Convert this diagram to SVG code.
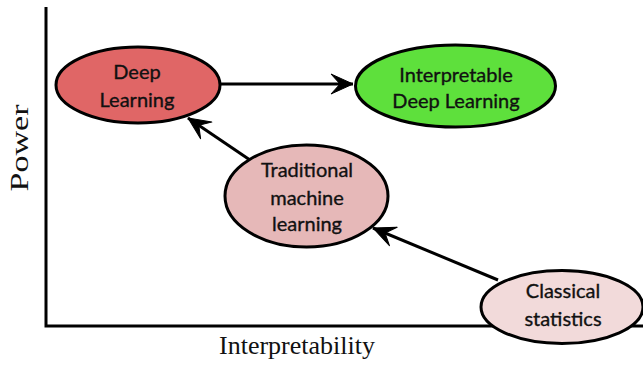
<svg xmlns="http://www.w3.org/2000/svg" width="643" height="368" viewBox="0 0 643 368">
  <style>
    .axis { stroke: #000; stroke-width: 3; fill: none; }
    .axis-label { font-family: "Liberation Serif", "Times New Roman", serif; font-size: 26px; fill: #111; }
    .node ellipse { stroke: #000; stroke-width: 3; }
    .node text { font-family: "Lato", "Noto Sans", sans-serif; font-size: 20px; fill: #111; stroke: #111; stroke-width: 0.35; text-anchor: middle; }
    .edge { stroke: #000; stroke-width: 3; fill: none; marker-end: url(#arrow); }
  </style>
  <defs>
    <marker id="arrow" viewBox="-24 -12 26 24" refX="0" refY="0" markerWidth="26" markerHeight="24" markerUnits="userSpaceOnUse" orient="auto">
      <path d="M0,0 L-22,-10 L-13,0 L-22,10 Z" fill="#000" stroke="#000" stroke-width="1" stroke-linejoin="round"/>
    </marker>
  </defs>

  <rect width="643" height="368" fill="#fff"/>

  <!-- axes -->
  <g id="axes">
    <path class="axis" d="M46,7 V326 H643"/>
    <text class="axis-label" x="0" y="0" transform="translate(28,148) rotate(-90)" text-anchor="middle" font-size="31" textLength="87" lengthAdjust="spacingAndGlyphs">Power</text>
    <text class="axis-label" x="297" y="354" text-anchor="middle">Interpretability</text>
  </g>

  <!-- connectors -->
  <g id="connectors">
    <line class="edge" x1="221" y1="84" x2="353" y2="84"/>
    <line class="edge" x1="250" y1="160" x2="188" y2="118"/>
    <line class="edge" x1="498" y1="280" x2="373" y2="228"/>
  </g>

  <g id="deep-learning" class="node">
    <ellipse cx="138" cy="85" rx="82" ry="38" fill="#e06666"/>
    <text x="137" y="79">Deep</text>
    <text x="137" y="107">Learning</text>
  </g>

  <g id="interpretable-deep-learning" class="node">
    <ellipse cx="455.5" cy="86" rx="100" ry="41" fill="#5ee03c"/>
    <text x="456" y="82">Interpretable</text>
    <text x="456" y="108">Deep Learning</text>
  </g>

  <g id="traditional-ml" class="node">
    <ellipse cx="306.5" cy="196" rx="81.5" ry="51" fill="#e6b8b8"/>
    <text x="307" y="177">Traditional</text>
    <text x="307" y="205">machine</text>
    <text x="307" y="231">learning</text>
  </g>

  <g id="classical-statistics" class="node">
    <ellipse cx="562" cy="307" rx="81" ry="36.5" fill="#f2dada"/>
    <text x="563" y="298">Classical</text>
    <text x="563" y="326">statistics</text>
  </g>
</svg>
